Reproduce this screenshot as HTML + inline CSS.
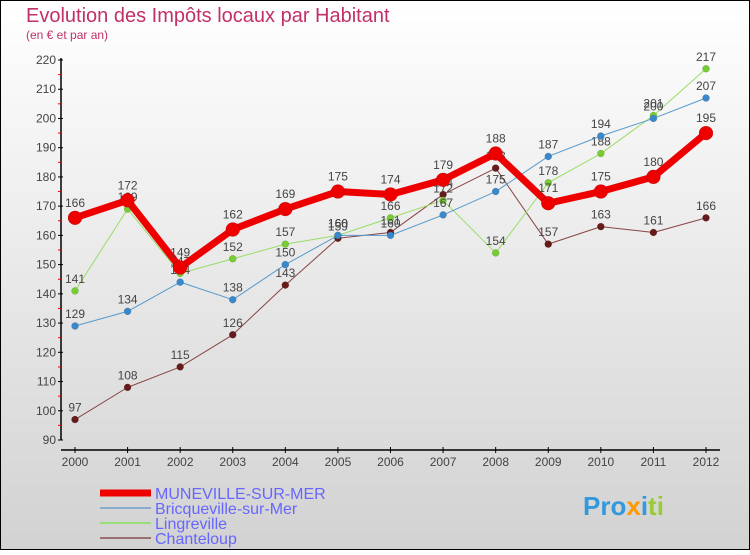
<!DOCTYPE html>
<html><head><meta charset="utf-8"><style>
html,body{margin:0;padding:0}
body{width:750px;height:550px;overflow:hidden;font-family:"Liberation Sans",sans-serif}
</style></head><body>
<svg id="c" width="750" height="550" xmlns="http://www.w3.org/2000/svg">
<defs><linearGradient id="bg" x1="0" y1="0" x2="0" y2="1"><stop offset="0" stop-color="#ffffff"/><stop offset="1" stop-color="#d2d2d2"/></linearGradient></defs>
<rect x="0.5" y="0.5" width="749" height="549" fill="url(#bg)" stroke="#000"/>
<text x="26" y="22" font-size="20" fill="#c0306a">Evolution des Impôts locaux par Habitant</text>
<text x="26" y="39" font-size="12" fill="#c0306a">(en € et par an)</text>
<g id="axes"></g><g id="series"></g>
<g>
<line x1="100" y1="493" x2="151" y2="493" stroke="#ee0000" stroke-width="7"/>
<text x="155" y="499" font-size="16" fill="#6666ff">MUNEVILLE-SUR-MER</text>
<line x1="100" y1="508" x2="151" y2="508" stroke="#88aacc" stroke-width="2"/>
<text x="155" y="514" font-size="16" fill="#6666ff">Bricqueville-sur-Mer</text>
<line x1="100" y1="523" x2="151" y2="523" stroke="#99dd77" stroke-width="2"/>
<text x="155" y="529" font-size="16" fill="#6666ff">Lingreville</text>
<line x1="100" y1="538" x2="151" y2="538" stroke="#997070" stroke-width="2"/>
<text x="155" y="544" font-size="16" fill="#6666ff">Chanteloup</text>
</g>
<text x="583" y="515" font-size="26" font-weight="bold"><tspan fill="#3399dd">Pro</tspan><tspan fill="#ff9900">x</tspan><tspan fill="#3399dd">i</tspan><tspan fill="#99cc33">ti</tspan></text>
</svg>
<script>
const years=["2000","2001","2002","2003","2004","2005","2006","2007","2008","2009","2010","2011","2012"];
const yTicks=[90,100,110,120,130,140,150,160,170,180,190,200,210,220];
const muneville=[166,172,149,162,169,175,174,179,188,171,175,180,195];
const bricqueville=[129,134,144,138,150,160,160,167,175,187,194,200,207];
const lingreville=[141,169,147,152,157,160,166,172,154,178,188,201,217];
const chanteloup=[97,108,115,126,143,159,161,174,183,157,163,161,166];
const NS="http://www.w3.org/2000/svg";
const xS=i=>75+i*(706-75)/12;
const yS=v=>440-(v-90)*(380/130);
function mk(tag,attrs,parent){const e=document.createElementNS(NS,tag);for(const k in attrs)e.setAttribute(k,attrs[k]);parent.appendChild(e);return e;}
const ax=document.getElementById('axes');
let l=mk('line',{x1:61,y1:58,x2:61,y2:440,stroke:'#000','stroke-width':1.5},ax);


l=mk('line',{x1:61,y1:450,x2:720,y2:450,stroke:'#000','stroke-width':1.5},ax);


yTicks.forEach((v,i)=>{const y=yS(v);
 mk('line',{x1:58,y1:y,x2:63,y2:y,stroke:'#000'},ax);
 if(i<yTicks.length-1)mk('line',{x1:58,y1:y-380/26,x2:61,y2:y-380/26,stroke:'#e00'},ax);
 const t=mk('text',{x:56,y:y+4,'font-size':12,fill:'#444','text-anchor':'end'},ax);t.textContent=v;
 
 });
years.forEach((yr,i)=>{const x=xS(i);
 mk('line',{x1:x,y1:447,x2:x,y2:453,stroke:'#000'},ax);
 const t=mk('text',{x:x,y:466,'font-size':12,fill:'#444','text-anchor':'middle'},ax);t.textContent=yr;
 
 });
const sg=document.getElementById('series');
function draw(data,name,color,dot,w,r){
 const g=mk('g',{},sg);
 
 
 mk('polyline',{points:data.map((v,i)=>xS(i)+','+yS(v)).join(' '),fill:'none',stroke:color,'stroke-width':w,'stroke-linejoin':'round'},g);
 data.forEach((v,i)=>{const c=mk('circle',{cx:xS(i),cy:yS(v),r:r,fill:dot,stroke:'#0003','stroke-width':0.5},g);
  
  
  const t=mk('text',{x:xS(i),y:yS(v)-8-(r>4?3:0),'font-size':12,fill:'#444','text-anchor':'middle'},g);t.textContent=v;
  
  });
}
draw(chanteloup,'chanteloup','#884444','#661a1a',1,3.5);
draw(lingreville,'lingreville','#99dd66','#77cc33',1,3.5);
draw(bricqueville,'bricqueville','#5599cc','#3a88cc',1,3.5);
draw(muneville,'muneville','#ee0000','#ee0000',7,7);
</script>
</body></html>
